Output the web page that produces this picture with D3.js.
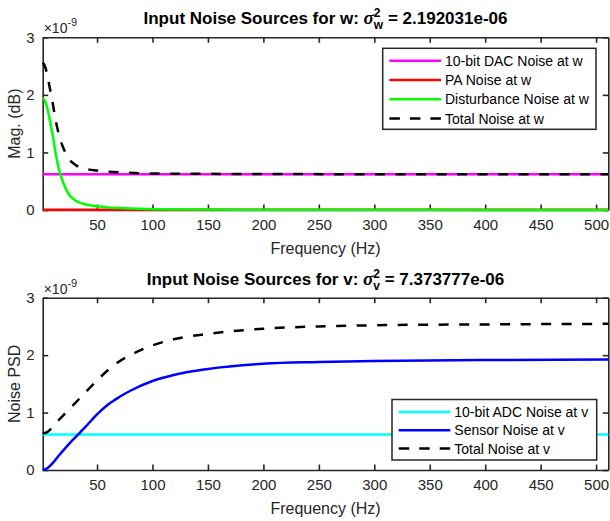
<!DOCTYPE html>
<html>
<head>
<meta charset="utf-8">
<script src="https://cdn.jsdelivr.net/npm/d3@7"></script>
<style>
  body { margin: 0; background: #fff; }
  svg { display: block; font-family: "Liberation Sans", Arial, sans-serif; }
</style>
</head>
<body>
<div id="chart"></div>
<script>
// values are in units of 1e-9
const xTicks = [50, 100, 150, 200, 250, 300, 350, 400, 450, 500];
const yTicks = [0, 1, 2, 3];
const freqDomain = [1, 511];
const freqConst = [1, 511];

// panel w
const freqW = [1, 3, 5, 7, 10, 13, 16, 20, 25, 30, 40, 50, 60, 75, 100, 150, 200, 300, 400, 511];
const dacW = [0.62, 0.62];
const paW = [0.004, 0.004];
const distW = [1.94, 1.90, 1.78, 1.60, 1.30, 0.95, 0.68, 0.45, 0.26, 0.17, 0.095, 0.065, 0.045, 0.03, 0.015, 0.008, 0.005, 0.003, 0.002, 0.001];
const totalW = [2.56, 2.50, 2.36, 2.16, 1.86, 1.53, 1.28, 1.06, 0.88, 0.79, 0.715, 0.685, 0.665, 0.65, 0.635, 0.628, 0.625, 0.622, 0.621, 0.62];

// panel v
const freqV = [1, 3, 5, 7, 10, 13, 16, 20, 25, 30, 35, 40, 50, 60, 70, 80, 100, 120, 150, 200, 250, 300, 400, 511];
const adcV = [0.62, 0.62];
const sensorV = [0, 0.01, 0.03, 0.06, 0.12, 0.19, 0.26, 0.35, 0.46, 0.56, 0.66, 0.76, 0.97, 1.14, 1.27, 1.38, 1.55, 1.66, 1.76, 1.85, 1.88, 1.90, 1.915, 1.925];
const totalV = [0.64, 0.645, 0.66, 0.69, 0.75, 0.81, 0.88, 0.96, 1.06, 1.16, 1.26, 1.36, 1.56, 1.74, 1.89, 2.00, 2.17, 2.28, 2.37, 2.46, 2.50, 2.52, 2.535, 2.545];

const width = 610, height = 521;
const axisColor = "#262626";

const svg = d3.select("#chart").append("svg")
    .attr("width", width)
    .attr("height", height);

function drawPanel(p) {
    let left = 42.7, right = 608.3;
    let x = d3.scaleLinear().domain(freqDomain).range([left, right]);
    let y = d3.scaleLinear().domain([0, 3]).range([p.bottom, p.top]);

    let g = svg.append("g");

    // box with inward ticks
    g.append("g")
        .attr("transform", `translate(0,${p.bottom})`)
        .call(d3.axisBottom(x).tickValues(xTicks).tickSize(-5.5).tickSizeOuter(0).tickPadding(9))
        .call(a => a.selectAll("text").attr("font-size", "15px").attr("fill", axisColor).attr("font-family", null));
    g.append("g")
        .attr("transform", `translate(0,${p.top})`)
        .call(d3.axisTop(x).tickValues(xTicks).tickSize(-5.5).tickSizeOuter(0).tickFormat(""));
    g.append("g")
        .attr("transform", `translate(${left},0)`)
        .call(d3.axisLeft(y).tickValues(yTicks).tickFormat(d3.format("d")).tickSize(-5.5).tickSizeOuter(0).tickPadding(8))
        .call(a => a.selectAll("text").attr("font-size", "15px").attr("fill", axisColor).attr("font-family", null));
    g.append("g")
        .attr("transform", `translate(${right},0)`)
        .call(d3.axisRight(y).tickValues(yTicks).tickSize(-5.5).tickSizeOuter(0).tickFormat(""));

    g.selectAll(".domain").attr("stroke", axisColor).attr("stroke-width", 1.6);
    g.selectAll(".tick line").attr("stroke", axisColor).attr("stroke-width", 1.6);

    // exponent label
    let ex = g.append("text")
        .attr("x", left + 1)
        .attr("y", p.top - 4)
        .attr("font-size", "14px")
        .attr("fill", axisColor);
    ex.append("tspan").text("\u00d710");
    ex.append("tspan").attr("dy", -7).attr("font-size", "11px").text("-9");

    // series
    let line = d3.line()
        .x(d => x(d[0]))
        .y(d => y(d[1]))
        .curve(d3.curveMonotoneX);

    p.series.forEach(s => {
        g.append("path")
            .datum(d3.zip(s.freq, s.values))
            .attr("fill", "none")
            .attr("stroke", s.color)
            .attr("stroke-width", 2.5)
            .attr("stroke-dasharray", s.dash ? "10,10.5" : null)
            .attr("d", line);
    });

    // title
    let t = g.append("text")
        .attr("x", (left + right) / 2)
        .attr("y", p.top - 13)
        .attr("text-anchor", "middle")
        .attr("font-size", "17px")
        .attr("font-weight", "bold");
    t.append("tspan").text(`Input Noise Sources for ${p.sym}: `);
    t.append("tspan").attr("font-family", "'Liberation Serif', serif").attr("font-style", "italic")
        .attr("font-size", "19px").text("\u03c3");
    t.append("tspan").attr("font-size", "12px").attr("dy", -7).text("2");
    t.append("tspan").attr("font-size", "12px").attr("dx", -6.7).attr("dy", 12).text(p.sym);
    t.append("tspan").attr("dy", -5).text(` = ${p.value}`);

    // axis labels
    g.append("text")
        .attr("x", (left + right) / 2)
        .attr("y", p.bottom + 44)
        .attr("text-anchor", "middle")
        .attr("font-size", "16px")
        .attr("fill", axisColor)
        .text("Frequency (Hz)");
    g.append("text")
        .attr("transform", `translate(20,${(p.top + p.bottom) / 2}) rotate(-90)`)
        .attr("text-anchor", "middle")
        .attr("font-size", "16px")
        .attr("fill", axisColor)
        .text(p.ylabel);

    // legend
    let lg = p.legend;
    g.append("rect")
        .attr("x", lg.x)
        .attr("y", lg.y)
        .attr("width", lg.w)
        .attr("height", lg.h)
        .attr("fill", "#fff")
        .attr("stroke", axisColor)
        .attr("stroke-width", 1.5);
    p.series.forEach((s, i) => {
        let ry = lg.y + 12.4 + i * lg.step;
        g.append("line")
            .attr("x1", lg.x + 6.7)
            .attr("x2", lg.x + 58.3)
            .attr("y1", ry)
            .attr("y2", ry)
            .attr("stroke", s.color)
            .attr("stroke-width", 2.5)
            .attr("stroke-dasharray", s.dash ? "10.5,10" : null);
        g.append("text")
            .attr("x", lg.x + 62.3)
            .attr("y", ry + 5)
            .attr("font-size", "14px")
            .attr("fill", "#000")
            .text(s.label);
    });
}

drawPanel({
    top: 37.3, bottom: 210,
    sym: "w", value: "2.192031e-06",
    ylabel: "Mag. (dB)",
    legend: { x: 382.7, y: 48.3, w: 213.3, h: 81, step: 19.3 },
    series: [
        { label: "10-bit DAC Noise at w", color: "#ff00ff", freq: freqConst, values: dacW },
        { label: "PA Noise at w", color: "#ff0000", freq: freqConst, values: paW },
        { label: "Disturbance Noise at w", color: "#00ff00", freq: freqW, values: distW },
        { label: "Total Noise at w", color: "#000000", dash: true, freq: freqW, values: totalW }
    ]
});

drawPanel({
    top: 297.7, bottom: 470,
    sym: "v", value: "7.373777e-06",
    ylabel: "Noise PSD",
    legend: { x: 392, y: 399.5, w: 204.7, h: 60.5, step: 18.3 },
    series: [
        { label: "10-bit ADC Noise at v", color: "#00ffff", freq: freqConst, values: adcV },
        { label: "Sensor Noise at v", color: "#0000ff", freq: freqV, values: sensorV },
        { label: "Total Noise at v", color: "#000000", dash: true, freq: freqV, values: totalV }
    ]
});
</script>
</body>
</html>
